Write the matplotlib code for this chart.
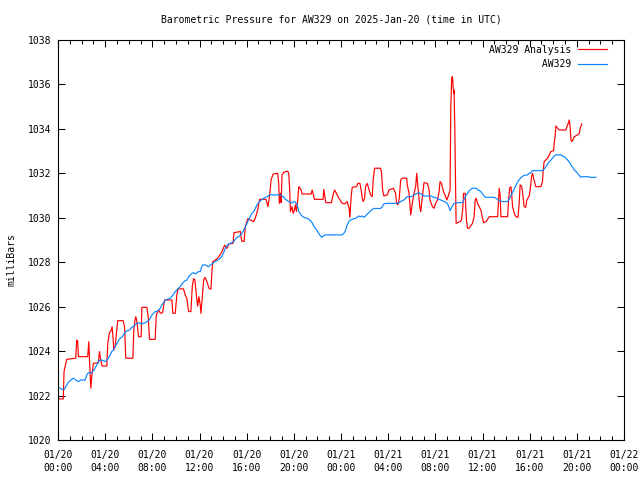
import numpy as np
import matplotlib
matplotlib.use("Agg")
import matplotlib.pyplot as plt

# hours since 2025-01-20 00:00 UTC, pressure in mbar
analysis_day1 = [
    (0.03, 1021.85), (0.45, 1021.85), (0.51, 1023.07), (0.74, 1023.63), (1.50, 1023.68),
    (1.59, 1024.50), (1.67, 1024.42), (1.73, 1023.75), (2.52, 1023.75), (2.61, 1024.42),
    (2.69, 1023.37), (2.78, 1022.33), (2.86, 1022.85), (3.00, 1023.45), (3.43, 1023.48),
    (3.51, 1023.98), (3.60, 1023.68), (3.74, 1023.33), (4.14, 1023.33), (4.22, 1024.35),
    (4.36, 1024.83), (4.50, 1024.92), (4.59, 1025.10), (4.65, 1024.73), (4.73, 1024.05),
    (4.84, 1024.20), (4.93, 1024.65), (5.07, 1025.37), (5.52, 1025.37), (5.64, 1025.10),
    (5.75, 1023.68), (6.35, 1023.68), (6.43, 1024.95), (6.52, 1025.37), (6.60, 1025.55),
    (6.69, 1025.33), (6.83, 1024.65), (7.05, 1024.65), (7.11, 1025.97), (7.54, 1025.97),
    (7.65, 1025.55), (7.76, 1024.53), (8.24, 1024.53), (8.33, 1025.62), (8.53, 1025.85),
    (8.70, 1025.70), (8.87, 1025.73), (9.04, 1026.30), (9.66, 1026.30), (9.74, 1025.70),
    (9.94, 1025.70), (10.08, 1026.52), (10.17, 1026.80), (10.65, 1026.80), (10.79, 1026.52),
    (10.93, 1026.38), (11.07, 1025.78), (11.27, 1025.78), (11.39, 1026.93), (11.50, 1027.26),
    (11.61, 1027.20), (11.73, 1026.52), (11.84, 1026.03), (11.95, 1026.45), (12.07, 1026.03),
    (12.12, 1025.70), (12.24, 1026.45), (12.35, 1027.20), (12.46, 1027.32), (12.63, 1027.13),
    (12.80, 1026.83), (12.97, 1026.78), (13.06, 1027.65), (13.14, 1028.03), (13.48, 1028.15),
    (13.71, 1028.31), (13.91, 1028.48), (14.13, 1028.77), (14.33, 1028.62), (14.47, 1028.82),
    (14.84, 1028.85), (14.93, 1029.33), (15.46, 1029.38), (15.58, 1028.96), (15.78, 1028.93),
    (15.89, 1029.60), (16.08, 1029.96), (16.59, 1029.83), (16.73, 1029.98), (16.93, 1030.35),
    (17.10, 1030.83), (17.64, 1030.83), (17.73, 1030.65), (17.81, 1030.50), (17.95, 1031.03),
    (18.07, 1031.70), (18.24, 1031.97), (18.63, 1032.00), (18.72, 1031.55), (18.77, 1030.65),
    (18.86, 1031.10), (18.92, 1030.68), (19.00, 1031.93), (19.14, 1032.05), (19.48, 1032.10),
    (19.57, 1032.00), (19.65, 1031.25), (19.71, 1030.28), (19.85, 1030.50), (19.94, 1030.20),
    (20.05, 1030.35), (20.13, 1030.58), (20.22, 1030.28), (20.33, 1030.80), (20.42, 1031.40),
    (20.62, 1031.25), (20.70, 1031.07), (21.47, 1031.07), (21.55, 1031.25), (21.63, 1031.10),
    (21.75, 1030.83), (22.48, 1030.83), (22.54, 1031.28), (22.63, 1030.95), (22.71, 1030.68),
    (23.19, 1030.68), (23.33, 1031.03), (23.45, 1031.25), (23.53, 1031.18), (23.82, 1030.88),
]
analysis_day2 = [
    (24.10, 1030.65), (24.30, 1030.62), (24.52, 1030.73), (24.69, 1030.43), (24.75, 1030.02),
    (24.86, 1030.95), (24.95, 1031.37), (25.32, 1031.40), (25.43, 1031.55), (25.60, 1031.55),
    (25.71, 1031.25), (25.80, 1030.88), (25.88, 1030.73), (26.00, 1030.88), (26.08, 1031.40),
    (26.22, 1031.55), (26.51, 1031.03), (26.65, 1030.95), (26.73, 1031.70), (26.85, 1032.23),
    (27.36, 1032.23), (27.44, 1032.00), (27.53, 1031.25), (27.64, 1030.98), (27.92, 1031.03),
    (28.07, 1031.25), (28.43, 1031.33), (28.63, 1031.10), (28.72, 1030.65), (28.83, 1030.58),
    (28.94, 1030.88), (29.06, 1031.70), (29.20, 1031.78), (29.57, 1031.78), (29.62, 1031.48),
    (29.77, 1031.10), (29.91, 1030.13), (30.05, 1030.65), (30.19, 1031.10), (30.33, 1031.40),
    (30.42, 1032.00), (30.53, 1031.33), (30.70, 1030.43), (30.76, 1030.28), (30.90, 1030.95),
    (31.04, 1031.58), (31.33, 1031.55), (31.47, 1031.25), (31.55, 1030.80), (31.75, 1030.50),
    (31.89, 1030.43), (32.03, 1030.65), (32.18, 1030.80), (32.32, 1031.18), (32.40, 1031.63),
    (32.52, 1031.55), (32.69, 1031.18), (32.88, 1030.95), (32.97, 1030.80), (33.08, 1030.95),
    (33.25, 1031.25), (33.31, 1035.00), (33.39, 1036.28), (33.45, 1036.35), (33.51, 1035.90),
    (33.56, 1035.60), (33.59, 1035.75), (33.65, 1034.10), (33.71, 1031.85), (33.76, 1029.75),
    (34.10, 1029.83), (34.22, 1029.90), (34.33, 1030.43), (34.39, 1031.10), (34.53, 1031.10),
    (34.58, 1030.50), (34.64, 1029.90), (34.73, 1029.53), (34.87, 1029.53), (35.15, 1029.75),
    (35.29, 1030.05), (35.38, 1030.80), (35.46, 1030.88), (35.58, 1030.65), (35.86, 1030.35),
    (36.00, 1029.98), (36.09, 1029.78), (36.31, 1029.83), (36.57, 1030.05), (37.28, 1030.05),
    (37.33, 1030.50), (37.42, 1031.33), (37.50, 1030.95), (37.56, 1030.05), (38.13, 1030.05),
    (38.21, 1030.80), (38.30, 1031.33), (38.41, 1031.40), (38.47, 1031.10), (38.55, 1030.50),
    (38.69, 1030.20), (38.83, 1030.05), (39.02, 1030.02), (39.11, 1030.65), (39.19, 1031.48),
    (39.31, 1031.43), (39.39, 1031.18), (39.48, 1030.73), (39.53, 1030.50), (39.67, 1030.47),
    (39.76, 1030.80), (39.96, 1030.98), (40.04, 1031.25), (40.16, 1031.85), (40.24, 1032.00),
    (40.33, 1031.78), (40.52, 1031.40), (40.95, 1031.40), (41.09, 1031.63), (41.15, 1032.15),
    (41.23, 1032.53), (41.52, 1032.68), (41.80, 1032.98), (42.03, 1033.02), (42.08, 1033.35),
    (42.17, 1033.73), (42.22, 1034.13), (42.37, 1034.03), (42.51, 1033.95), (43.07, 1033.95),
    (43.16, 1034.10), (43.27, 1034.25), (43.36, 1034.40), (43.44, 1034.03), (43.50, 1033.50),
    (43.56, 1033.43), (43.67, 1033.50), (43.78, 1033.65), (44.07, 1033.73), (44.21, 1033.80),
    (44.29, 1034.03), (44.41, 1034.22),
]

station_day1 = [
    (0.03, 1022.37), (0.31, 1022.28), (0.54, 1022.28), (0.74, 1022.48), (0.94, 1022.63),
    (1.16, 1022.73), (1.30, 1022.78), (1.50, 1022.70), (1.73, 1022.63), (1.95, 1022.70),
    (2.30, 1022.70), (2.44, 1022.93), (2.58, 1023.03), (2.86, 1023.03), (3.00, 1023.12),
    (3.14, 1023.23), (3.29, 1023.38), (3.43, 1023.53), (3.57, 1023.60), (3.71, 1023.60),
    (3.85, 1023.56), (4.00, 1023.53), (4.14, 1023.60), (4.28, 1023.68), (4.42, 1023.83),
    (4.56, 1023.98), (4.70, 1024.05), (4.84, 1024.20), (4.99, 1024.35), (5.13, 1024.47),
    (5.27, 1024.58), (5.41, 1024.62), (5.55, 1024.73), (5.69, 1024.83), (5.83, 1024.92),
    (5.98, 1024.92), (6.12, 1024.98), (6.26, 1025.07), (6.40, 1025.10), (6.54, 1025.18),
    (6.69, 1025.25), (6.83, 1025.28), (6.97, 1025.25), (7.11, 1025.22), (7.25, 1025.25),
    (7.39, 1025.28), (7.54, 1025.33), (7.68, 1025.37), (7.82, 1025.48), (7.96, 1025.62),
    (8.10, 1025.70), (8.24, 1025.78), (8.38, 1025.78), (8.53, 1025.85), (8.67, 1025.93),
    (8.81, 1026.08), (8.95, 1026.18), (9.09, 1026.30), (9.52, 1026.38), (9.74, 1026.52),
    (9.94, 1026.68), (10.08, 1026.75), (10.22, 1026.83), (10.37, 1026.90), (10.59, 1027.08),
    (10.79, 1027.17), (10.93, 1027.20), (11.07, 1027.35), (11.22, 1027.43), (11.36, 1027.50),
    (11.50, 1027.53), (11.64, 1027.47), (11.78, 1027.53), (11.92, 1027.58), (12.07, 1027.58),
    (12.21, 1027.83), (12.29, 1027.88), (12.49, 1027.88), (12.63, 1027.83), (12.77, 1027.80),
    (12.92, 1027.88), (13.06, 1027.92), (13.20, 1027.98), (13.34, 1028.03), (13.48, 1028.07),
    (13.62, 1028.13), (13.77, 1028.18), (13.91, 1028.28), (14.05, 1028.43), (14.19, 1028.63),
    (14.33, 1028.73), (14.47, 1028.82), (14.61, 1028.85), (14.76, 1028.88), (14.90, 1028.93),
    (15.04, 1029.03), (15.18, 1029.12), (15.32, 1029.15), (15.47, 1029.23), (15.61, 1029.30),
    (15.75, 1029.45), (15.89, 1029.60), (16.03, 1029.75), (16.17, 1029.93), (16.31, 1030.08),
    (16.46, 1030.20), (16.60, 1030.28), (16.74, 1030.43), (16.88, 1030.58), (17.02, 1030.68),
    (17.17, 1030.77), (17.31, 1030.83), (17.45, 1030.88), (17.59, 1030.92), (17.73, 1030.95),
    (17.87, 1031.00), (18.01, 1031.03), (18.86, 1031.03), (19.00, 1030.98), (19.15, 1030.92),
    (19.28, 1030.83), (19.43, 1030.78), (19.57, 1030.73), (19.71, 1030.68), (19.85, 1030.68),
    (20.05, 1030.73), (20.15, 1030.68), (20.22, 1030.62), (20.28, 1030.58), (20.42, 1030.28),
    (20.56, 1030.17), (20.70, 1030.08), (20.84, 1030.02), (21.13, 1029.98), (21.27, 1029.93),
    (21.41, 1029.87), (21.55, 1029.78), (21.69, 1029.63), (21.83, 1029.52), (21.97, 1029.42),
    (22.12, 1029.30), (22.26, 1029.18), (22.40, 1029.12), (22.48, 1029.18), (22.68, 1029.23),
]
station_day2 = [
    (24.10, 1029.23), (24.24, 1029.30), (24.38, 1029.42), (24.52, 1029.68), (24.67, 1029.83),
    (24.81, 1029.90), (24.95, 1029.93), (25.23, 1029.98), (25.37, 1030.02), (25.51, 1030.08),
    (25.66, 1030.05), (25.80, 1030.08), (25.94, 1030.02), (26.08, 1030.08), (26.22, 1030.17),
    (26.37, 1030.23), (26.51, 1030.32), (26.65, 1030.38), (26.79, 1030.42), (27.36, 1030.42),
    (27.50, 1030.50), (27.64, 1030.62), (27.78, 1030.65), (28.77, 1030.65), (28.91, 1030.68),
    (29.06, 1030.73), (29.20, 1030.77), (29.34, 1030.80), (29.48, 1030.88), (29.62, 1030.95),
    (29.91, 1030.95), (30.05, 1030.98), (30.19, 1031.03), (30.33, 1031.07), (30.47, 1031.10),
    (30.62, 1031.13), (30.76, 1031.07), (30.90, 1031.03), (31.04, 1030.98), (31.61, 1030.98),
    (31.75, 1030.95), (31.89, 1030.92), (32.17, 1030.88), (32.31, 1030.83), (32.46, 1030.80),
    (32.74, 1030.73), (33.02, 1030.65), (33.16, 1030.48), (33.25, 1030.32), (33.45, 1030.53),
    (33.59, 1030.65), (33.88, 1030.68), (34.30, 1030.68), (34.44, 1030.83), (34.58, 1030.98),
    (34.73, 1031.10), (34.87, 1031.22), (35.01, 1031.28), (35.15, 1031.33), (35.43, 1031.33),
    (35.58, 1031.28), (35.72, 1031.22), (35.86, 1031.18), (36.00, 1031.07), (36.14, 1030.98),
    (36.28, 1030.92), (36.99, 1030.92), (37.13, 1030.88), (37.28, 1030.83), (37.42, 1030.78),
    (37.56, 1030.73), (38.13, 1030.73), (38.27, 1030.85), (38.41, 1031.00), (38.55, 1031.15),
    (38.69, 1031.30), (38.83, 1031.45), (38.97, 1031.60), (39.12, 1031.72), (39.25, 1031.80),
    (39.53, 1031.91), (39.82, 1031.93), (39.96, 1032.00), (40.10, 1032.03), (40.24, 1032.12),
    (41.09, 1032.12), (41.23, 1032.20), (41.37, 1032.30), (41.52, 1032.42), (41.66, 1032.52),
    (41.80, 1032.60), (41.94, 1032.68), (42.08, 1032.78), (42.22, 1032.83), (42.65, 1032.83),
    (42.79, 1032.78), (42.94, 1032.75), (43.07, 1032.68), (43.22, 1032.60), (43.36, 1032.50),
    (43.50, 1032.38), (43.64, 1032.28), (43.78, 1032.15), (43.93, 1032.08), (44.07, 1032.00),
    (44.21, 1031.90), (44.35, 1031.82), (44.49, 1031.85), (44.63, 1031.85), (44.92, 1031.85),
    (45.20, 1031.82), (45.62, 1031.82),
]

xtick_hours = [0, 4, 8, 12, 16, 20, 24, 28, 32, 36, 40, 44, 48]
xtick_labels = ["01/20\n00:00", "01/20\n04:00", "01/20\n08:00", "01/20\n12:00",
                "01/20\n16:00", "01/20\n20:00", "01/21\n00:00", "01/21\n04:00",
                "01/21\n08:00", "01/21\n12:00", "01/21\n16:00", "01/21\n20:00",
                "01/22\n00:00"]
ytick_vals = [1020, 1022, 1024, 1026, 1028, 1030, 1032, 1034, 1036, 1038]

plt.rcParams['font.family'] = ['DejaVu Sans Mono']
plt.rcParams['font.size'] = 7

an = np.array(analysis_day1 + analysis_day2)
st = np.array(station_day1 + station_day2)

fig = plt.figure(figsize=(6.4, 4.8), dpi=100)
ax = fig.add_axes([58/640, 40/480, (624-58)/640, 400/480])

ax.plot(an[:, 0], an[:, 1], color='#ff0000', lw=0.85, label='AW329 Analysis')
ax.plot(st[:, 0], st[:, 1], color='#0a84ff', lw=0.85, label='         AW329')

ax.set_xlim(0, 48)
ax.set_ylim(1020, 1038)
ax.set_xticks(xtick_hours)
ax.set_xticklabels(xtick_labels, linespacing=1.45)
ax.set_xticks(np.arange(0, 49, 1), minor=True)
ax.set_yticks(ytick_vals)
ax.tick_params(which='both', direction='in', top=True, right=True, width=0.75)
ax.tick_params(which='major', length=5)
ax.tick_params(which='minor', length=3)
ax.tick_params(axis='x', pad=7)
ax.tick_params(axis='y', pad=5)
for s in ax.spines.values():
    s.set_linewidth(0.8)

fig.text(331/640, 1 - 20/480, "Barometric Pressure for AW329 on 2025-Jan-20 (time in UTC)",
         ha='center', va='center')
fig.text(12/640, 0.46, "milliBars", rotation=90, ha='center', va='center')

ax.legend(loc='upper right', frameon=False, markerfirst=False, handlelength=3.0,
          handletextpad=0.7, borderaxespad=0.2, borderpad=0.3, labelspacing=0.45,
          bbox_to_anchor=(1 - 12/566, 1.0))

fig.savefig('out.png', dpi=100)
